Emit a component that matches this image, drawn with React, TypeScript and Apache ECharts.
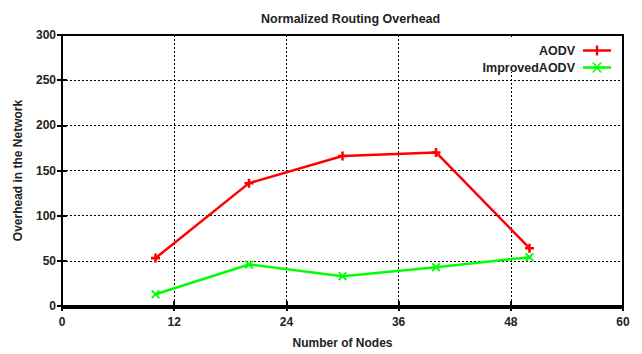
import React, { useEffect, useRef } from "react";
import * as echarts from "echarts";

const nodes = [10, 20, 30, 40, 50];
const aodv = [53, 136, 166, 170, 64];
const improvedAodv = [13, 46, 33, 43, 54];
const xTicks = { min: 0, max: 60, interval: 12 };
const yTicks = { min: 0, max: 300, interval: 50 };

const plusIcon = "path://M0,3.8H28V6.2H0Z M12.8,0H15.2V10H12.8Z";
const crossIcon =
  "path://M0,3.8H28V6.2H0Z M9,0L11,0L19,10L17,10Z M17,0L19,0L11,10L9,10Z";
const plusSym = "path://M0,3.6H10V6.4H0Z M3.6,0H6.4V10H3.6Z";
const crossSym = "path://M0,1.5L1.5,0L10,8.5L8.5,10Z M8.5,0L10,1.5L1.5,10L0,8.5Z";

const FONT = "Liberation Sans";

export default function App() {
  const ref = useRef<HTMLDivElement>(null);
  useEffect(() => {
    const chart = echarts.init(ref.current!, null, { renderer: "svg" });
    const txt = { fontFamily: FONT, fontWeight: "bold" as const, fontSize: 12, color: "#222" };
    const grid = { left: 62, top: 35, width: 561, height: 273 };
    const dots = { color: "#000", type: [2, 2], width: 1 };
    chart.setOption({
      animation: false,
      backgroundColor: "#fff",
      title: {
        text: "Normalized Routing Overhead",
        left: 256,
        top: 7,
        textStyle: { ...txt, fontSize: 12.5 },
      },
      grid: { ...grid, show: false },
      legend: [
        {
          data: [{ name: "AODV", icon: plusIcon }],
          right: 26,
          top: 39,
          itemWidth: 28,
          itemHeight: 10,
          align: "right",
          textStyle: { ...txt, fontSize: 12.5, padding: [0, 3, 0, 0] },
          selectedMode: false,
        },
        {
          data: [{ name: "ImprovedAODV", icon: crossIcon }],
          right: 26,
          top: 56,
          itemWidth: 28,
          itemHeight: 10,
          align: "right",
          textStyle: { ...txt, fontSize: 12.5, padding: [0, 3, 0, 0] },
          selectedMode: false,
        },
      ],
      graphic: [
        {
          type: "rect",
          shape: { x: 470, y: 38, width: 150, height: 34 },
          style: { fill: "#fff" },
          z: 1,
        },
        {
          type: "rect",
          shape: { x: grid.left, y: grid.top, width: grid.width, height: grid.height },
          style: { fill: "none", stroke: "#000", lineWidth: 2 },
          z: 10,
          silent: true,
        },
      ],
      xAxis: [
        {
          type: "value",
          ...xTicks,
          name: "Number of Nodes",
          nameLocation: "middle",
          nameGap: 31,
          nameTextStyle: txt,
          axisLine: { show: true, lineStyle: { color: "#000", width: 2 } },
          axisTick: { show: true, inside: true, length: 5, lineStyle: { color: "#000", width: 2 } },
          axisLabel: { ...txt, margin: 10 },
          splitLine: { show: true, lineStyle: dots },
        },
        {
          type: "value",
          ...xTicks,
          position: "top",
          axisLine: { show: true, lineStyle: { color: "#000", width: 2 } },
          axisTick: { show: true, inside: true, length: 5, lineStyle: { color: "#000", width: 2 } },
          axisLabel: { show: false },
          splitLine: { show: false },
        },
      ],
      yAxis: [
        {
          type: "value",
          ...yTicks,
          name: "Overhead in the Network",
          nameLocation: "middle",
          nameGap: 38,
          nameRotate: 90,
          nameTextStyle: txt,
          axisLine: { show: true, lineStyle: { color: "#000", width: 2 } },
          axisTick: { show: true, inside: true, length: 5, lineStyle: { color: "#000", width: 2 } },
          axisLabel: { ...txt, margin: 6 },
          splitLine: { show: true, lineStyle: dots },
        },
        {
          type: "value",
          ...yTicks,
          position: "right",
          axisLine: { show: true, lineStyle: { color: "#000", width: 2 } },
          axisTick: { show: true, inside: true, length: 5, lineStyle: { color: "#000", width: 2 } },
          axisLabel: { show: false },
          splitLine: { show: false },
        },
      ],
      series: [
        {
          name: "AODV",
          type: "line",
          data: nodes.map((x, i) => [x, aodv[i]]),
          symbol: plusSym,
          symbolSize: 9,
          color: "#ff0000",
          lineStyle: { color: "#ff0000", width: 2.5 },
          itemStyle: { color: "#ff0000" },
          z: 3,
        },
        {
          name: "ImprovedAODV",
          type: "line",
          data: nodes.map((x, i) => [x, improvedAodv[i]]),
          symbol: crossSym,
          symbolSize: 9,
          color: "#00ff00",
          lineStyle: { color: "#00ff00", width: 2.5 },
          itemStyle: { color: "#00ff00" },
          z: 3,
        },
      ],
    });
    return () => chart.dispose();
  }, []);
  return (
    <div
      ref={ref}
      style={{ position: "absolute", left: 0, top: 0, width: 642, height: 354 }}
    />
  );
}
